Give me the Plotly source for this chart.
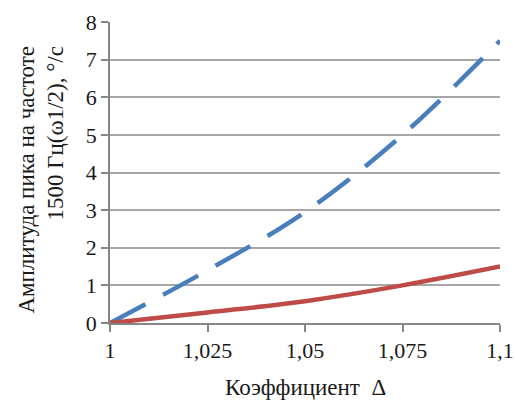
import plotly.graph_objects as go

x_vals = [1.0, 1.025, 1.05, 1.075, 1.1]
blue_vals = [0.0, 1.4, 2.95, 5.0, 7.5]
red_vals = [0.0, 0.28, 0.58, 1.0, 1.5]
x_ticks = [1.0, 1.025, 1.05, 1.075, 1.1]
x_tick_text = ["1", "1,025", "1,05", "1,075", "1,1"]
y_ticks = [0, 1, 2, 3, 4, 5, 6, 7, 8]

FONT = "Liberation Serif"
FS = 22
FT = 23

fig = go.Figure()
fig.add_trace(go.Scatter(x=x_vals, y=blue_vals, mode="lines",
                         line=dict(color="#4a7ebb", width=4.5, dash="40px,20px", shape="spline"),
                         showlegend=False))
fig.add_trace(go.Scatter(x=x_vals, y=red_vals, mode="lines",
                         line=dict(color="#be4b48", width=4.5, shape="spline"),
                         showlegend=False))

fig.update_layout(
    width=515, height=400,
    margin=dict(l=110, r=15, t=22, b=77),
    paper_bgcolor="white", plot_bgcolor="white",
    font=dict(family=FONT, size=FS, color="#1a1a1a"),
    xaxis=dict(range=[1.0, 1.1], tickvals=x_ticks, ticktext=x_tick_text, automargin=False,
               showgrid=False, zeroline=False, showline=True, linecolor="#868686", linewidth=1.5,
               ticks="outside", ticklen=7, tickcolor="#868686", tickwidth=1.5,
               tickfont=dict(family=FONT, size=FS)),
    yaxis=dict(range=[0, 8], tickvals=y_ticks, automargin=False,
               showgrid=True, gridcolor="#a6a6a6", gridwidth=1.5, zeroline=False,
               showline=True, linecolor="#868686", linewidth=1.5,
               ticks="outside", ticklen=7, tickcolor="#868686", tickwidth=1.5,
               tickfont=dict(family=FONT, size=FS)),
    annotations=[
        dict(text="Коэффициент  Δ", xref="paper", yref="paper", x=0.501, y=-0.215,
             xanchor="center", yanchor="middle", showarrow=False, borderpad=0,
             font=dict(family=FONT, size=FT)),
        dict(text="Амплитуда пика на частоте<br>1500 Гц(ω1/2), °/с", xref="paper", yref="paper",
             x=-0.178, y=0.475, xanchor="center", yanchor="middle", textangle=-90,
             align="right", showarrow=False,
             font=dict(family=FONT, size=FT)),
    ],
)

fig.write_html("out.html", config={"displayModeBar": False},
               post_script="document.body.style.margin='0';")
